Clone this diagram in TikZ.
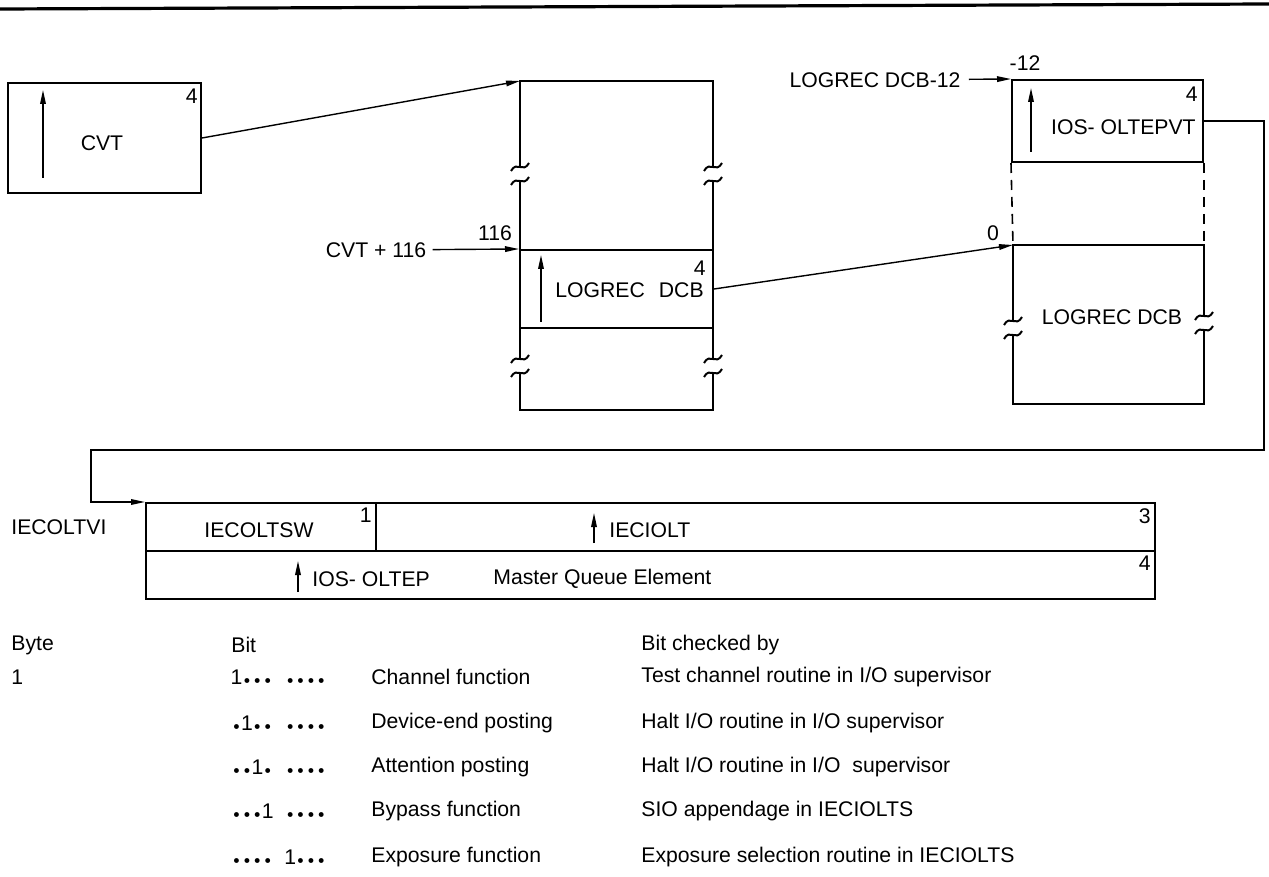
\documentclass[tikz,border=0pt]{standalone}
\usepackage{fontspec}
\setmainfont{Liberation Sans}
\usetikzlibrary{arrows.meta, positioning, calc}

% one bit position of a bit mask: set, or not tested
\newcommand{\bon}{\makebox[5.2pt]{1}}
\newcommand{\boff}{\makebox[5.2pt]{\raisebox{0.1ex}{$\scriptscriptstyle\bullet$}}}
\newcommand{\nib}{\hspace{6pt}}

\tikzset{
  fld/.style={draw, line width=1pt, inner sep=0pt},
  ofs/.style={inner sep=0pt},
  ptr/.style={line width=0.7pt, -{Triangle[length=7pt, width=2.8pt]}},
  brkmark/.pic={
    \draw[line width=1pt] (-9,-3) .. controls (-3,-14) and (3,0) .. (9,-11);
    \draw[line width=1pt] (-9,11) .. controls (-3,0) and (3,14) .. (9,3);
  }
}

\begin{document}
\begin{tikzpicture}[x=0.5pt, y=-0.5pt, font=\fontsize{10.6}{12.7}\selectfont, inner sep=1pt]

\useasboundingbox (0,0) rectangle (1269,877);

% Top rule
\draw[line width=1.6pt] (0,9) -- (1269,4);

% CVT
\node[fld, minimum width=96.5pt, minimum height=55pt] (cvt) at (104.5,138) {};
\node[ofs, below left=3.5pt and 2pt of cvt.north east] (cvtlen) {4};
\node (cvtname) at (102,143) {CVT};
\coordinate (cvtlo) at (43,178);
\coordinate (cvthi) at (43,90);
\draw[ptr] (cvtlo) -- (cvthi);

% CVT storage, broken column
\coordinate (colnw) at (520,81);
\coordinate (colne) at (713,81);
\coordinate (colsw) at (520,410);
\coordinate (colse) at (713,410);
\draw[line width=1pt] (520,167) -- (colnw) -- (colne) -- (713,167);
\draw[line width=1pt] (520,181) -- (520,359);
\draw[line width=1pt] (713,181) -- (713,359);
\draw[line width=1pt] (520,373) -- (colsw) -- (colse) -- (713,373);
\pic at (520,174) {brkmark};
\pic at (713,174) {brkmark};
\pic at (520,366) {brkmark};
\pic at (713,366) {brkmark};

\draw[ptr] (cvt.east) -- (colnw);

% LOGREC DCB pointer at CVT+116
\node[fld, minimum width=96.5pt, minimum height=39pt] (dcbcell) at (616.5,289) {};
\node[ofs, below left=6pt and 4pt of dcbcell.north east] (dcblen) {4};
\node[anchor=west] (dcbname) at (553,290) {LOGREC\hspace{7pt}DCB};
\coordinate (dcblo) at (541,322);
\coordinate (dcbhi) at (541,255);
\draw[ptr] (dcblo) -- (dcbhi);

\node (cvt116) at (376,250) {CVT + 116};
\node (off116) at (495,233) {116};
\draw[ptr, shorten <=2pt] (cvt116) -- (dcbcell.north west);

% LOGREC DCB
\coordinate (dcbnw) at (1013,245);
\coordinate (dcbne) at (1204,245);
\coordinate (dcbsw) at (1013,404);
\coordinate (dcbse) at (1204,404);
\draw[line width=1pt] (1013,321) -- (dcbnw) -- (dcbne) -- (1204,316);
\draw[line width=1pt] (1013,335) -- (dcbsw) -- (dcbse) -- (1204,330);
\pic at (1013,328) {brkmark};
\pic at (1204,323) {brkmark};
\node (dcbtitle) at (1112,317) {LOGREC DCB};
\node (off0) at (993,233) {0};

\draw[ptr] (dcbcell.east) -- (dcbnw);

% IOS-OLTEPVT in front of the DCB
\node[fld, minimum width=95.5pt, minimum height=41pt] (upbox) at (1107.5,121) {};
\node[ofs, below left=4pt and 3pt of upbox.north east] (uplen) {4};
\node[anchor=east] (upname) at (1198,127) {IOS- OLTEPVT};
\coordinate (uplo) at (1031,152);
\coordinate (uphi) at (1031,88);
\draw[ptr] (uplo) -- (uphi);

\node (dcb12) at (875,80) {LOGREC DCB-12};
\node (off12) at (1025,63) {-12};
\draw[ptr, shorten <=3pt] (dcb12) -- (upbox.north west);

\draw[line width=0.8pt, dash pattern=on 5pt off 3.5pt] (upbox.south west) -- (dcbnw);
\draw[line width=0.8pt, dash pattern=on 5pt off 3.5pt] (upbox.south east) -- (dcbne);

% IECOLTVI
\node[fld, minimum width=115pt, minimum height=24pt] (tsw) at (261,527) {};
\node[fld, minimum width=389.5pt, minimum height=24pt] (tolt) at (765.5,527) {};
\node[fld, minimum width=504.5pt, minimum height=24pt] (tqe) at (650.5,575) {};
\node[ofs, below left=3pt and 2.5pt of tsw.north east] (tswlen) {1};
\node[ofs, below left=3pt and 2.5pt of tolt.north east] (toltlen) {3};
\node[ofs, below left=3pt and 2.5pt of tqe.north east] (tqelen) {4};

\node[anchor=west] (vtname) at (9,527) {IECOLTVI};
\node (tswname) at (259,530) {IECOLTSW};
\node[anchor=west] (toltname) at (607,530) {IECIOLT};
\node[anchor=west] (tqename) at (310,579) {IOS- OLTEP};
\node[anchor=west] (tqedesc) at (491,579) {Master Queue Element};
\coordinate (toltlo) at (594,543);
\coordinate (tolthi) at (594,513);
\draw[ptr] (toltlo) -- (tolthi);
\coordinate (tqelo) at (298,592);
\coordinate (tqehi) at (298,561);
\draw[ptr] (tqelo) -- (tqehi);

\coordinate (feedtr) at (1264,450);
\coordinate (feedtl) at (91,450);
\draw[ptr] (upbox.east) -| (feedtr) -- (feedtl) |- (tsw.north west);

% Bit table
\node[anchor=west] (hbyte) at (9,645) {Byte};
\node[anchor=west] (hbit) at (229,645) {Bit};
\node[anchor=west] (hby) at (639,645) {Bit checked by};

\node[anchor=west] (byte1) at (9,677) {1};

\node[anchor=west] (pat1) at (229,677) {\bon\boff\boff\boff\nib\boff\boff\boff\boff};
\node[anchor=west] (use1) at (369,677) {Channel function};
\node[anchor=west] (by1) at (639,677) {Test channel routine in I/O supervisor};

\node[anchor=west] (pat2) at (229,723) {\boff\bon\boff\boff\nib\boff\boff\boff\boff};
\node[anchor=west] (use2) at (369,723) {Device-end posting};
\node[anchor=west] (by2) at (639,723) {Halt I/O routine in I/O supervisor};

\node[anchor=west] (pat3) at (229,767) {\boff\boff\bon\boff\nib\boff\boff\boff\boff};
\node[anchor=west] (use3) at (369,767) {Attention posting};
\node[anchor=west] (by3) at (639,767) {Halt I/O routine in I/O\hspace{3pt} supervisor};

\node[anchor=west] (pat4) at (229,811) {\boff\boff\boff\bon\nib\boff\boff\boff\boff};
\node[anchor=west] (use4) at (369,811) {Bypass function};
\node[anchor=west] (by4) at (639,811) {SIO appendage in IECIOLTS};

\node[anchor=west] (pat5) at (229,857) {\boff\boff\boff\boff\nib\bon\boff\boff\boff};
\node[anchor=west] (use5) at (369,857) {Exposure function};
\node[anchor=west] (by5) at (639,857) {Exposure selection routine in IECIOLTS};

\end{tikzpicture}
\end{document}
